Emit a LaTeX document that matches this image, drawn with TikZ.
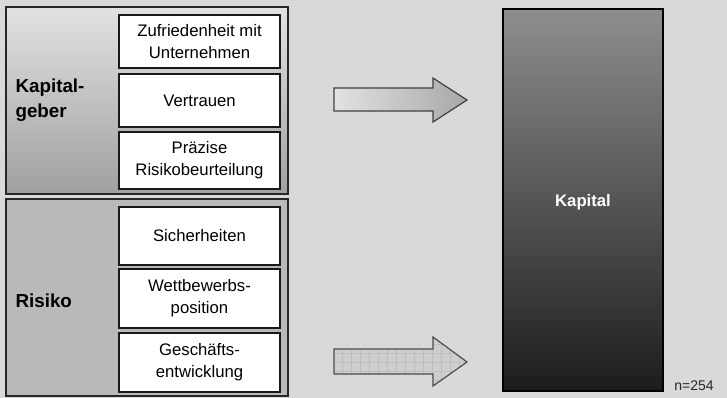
\documentclass[tikz,border=0pt]{standalone}
\usepackage{fontspec}
\setmainfont{Liberation Sans}
\usetikzlibrary{patterns.meta}
\definecolor{bg}{RGB}{217,217,217}
\definecolor{kgtop}{RGB}{226,226,226}
\definecolor{kgbot}{RGB}{160,160,160}
\definecolor{risfill}{RGB}{185,185,185}
\definecolor{kaptop}{RGB}{142,142,142}
\definecolor{kapbot}{RGB}{28,28,28}
\definecolor{arlight}{RGB}{226,226,226}
\definecolor{ardark}{RGB}{168,168,168}
\definecolor{ar2fill}{RGB}{206,206,206}
\definecolor{ar2grid}{RGB}{190,190,190}
\begin{document}
\begin{tikzpicture}[x=1pt,y=-1pt,
  outerbox/.style={draw=black!85, line width=1.6pt, inner sep=0pt},
  itembox/.style={draw=black!90, line width=1.4pt, fill=white, inner sep=0pt,
     minimum width=161pt, align=center, font=\fontsize{16.7}{22}\selectfont},
  grouplabel/.style={anchor=west, align=left, font=\bfseries\fontsize{18.8}{25}\selectfont},
  bigarrow/.style={draw=black!75, line width=1.2pt, line join=miter}
]
\fill[bg] (0,0) rectangle (727,398);
\useasboundingbox (0,0) rectangle (727,398);

% Kapitalgeber group
\node[outerbox, top color=kgtop, bottom color=kgbot, minimum width=282pt, minimum height=187pt] (kg) at (147,100.5) {};
\node[itembox, minimum height=53pt] (zuf) at (199.5,41.5) {Zufriedenheit mit\\Unternehmen};
\node[itembox, minimum height=53pt] (ver) at (199.5,100.5) {Vertrauen};
\node[itembox, minimum height=57pt] (pra) at (199.5,160.5) {Präzise\\Risikobeurteilung};
\node[grouplabel] (kgl) at (12,100.5) {Kapital-\\geber};

% Risiko group
\node[outerbox, fill=risfill, minimum width=282pt, minimum height=197pt] (ris) at (147,297.5) {};
\node[itembox, minimum height=58pt] (sic) at (199.5,236) {Sicherheiten};
\node[itembox, minimum height=59pt] (wet) at (199.5,298.5) {Wettbewerbs-\\position};
\node[itembox, minimum height=59pt] (ges) at (199.5,362.5) {Geschäfts-\\entwicklung};
\node[grouplabel] (risl) at (12,300.5) {Risiko};

% Kapital column
\node[draw=black, line width=1.4pt, top color=kaptop, bottom color=kapbot,
      minimum width=160pt, minimum height=382pt, inner sep=0pt] (kap) at (583,200) {};
\node[text=white, font=\bfseries\fontsize{16.7}{20}\selectfont] (kapl) at (583,202) {Kapital};
\node[font=\fontsize{14}{16}\selectfont, text=black!85] (n) at (694,386) {n=254};

% arrows
\draw[bigarrow, left color=arlight, right color=ardark]
  (334,88) -- (433,88) -- (433,78) -- (467,100) -- (433,122) -- (433,111) -- (334,111) -- cycle;
\fill[ar2fill]
  (334,349) -- (433,349) -- (433,337) -- (467,362) -- (433,386) -- (433,374) -- (334,374) -- cycle;
\path[pattern={Lines[angle=0,distance=9pt,line width=0.3pt]}, pattern color=ar2grid]
  (334,349) -- (433,349) -- (433,337) -- (467,362) -- (433,386) -- (433,374) -- (334,374) -- cycle;
\path[pattern={Lines[angle=90,distance=9pt,line width=0.3pt]}, pattern color=ar2grid]
  (334,349) -- (433,349) -- (433,337) -- (467,362) -- (433,386) -- (433,374) -- (334,374) -- cycle;
\draw[bigarrow, draw=black!70]
  (334,349) -- (433,349) -- (433,337) -- (467,362) -- (433,386) -- (433,374) -- (334,374) -- cycle;
\end{tikzpicture}
\end{document}
